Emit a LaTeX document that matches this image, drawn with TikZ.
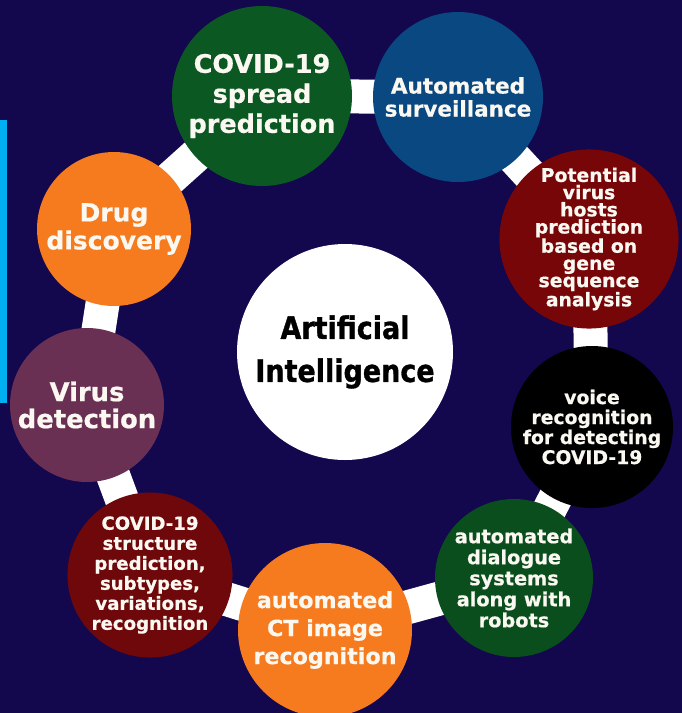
\documentclass[tikz,border=0pt]{standalone}
\usepackage{fontspec}
\usepackage{xcolor}
\usetikzlibrary{backgrounds}
\setmainfont{DejaVu Sans}[BoldFeatures={FakeBold=0.6}]
\newfontfamily\aifont{DejaVu Sans}[FakeStretch=0.87, BoldFeatures={FakeBold=1}]
\newcommand\circfont[2]{\fontsize{#1}{#2}\selectfont\bfseries}

\definecolor{bgnavy}{RGB}{19,7,78}
\definecolor{barcyan}{RGB}{0,176,240}
\definecolor{spreadgreen}{RGB}{11,88,34}
\definecolor{survblue}{RGB}{10,72,130}
\definecolor{hostred}{RGB}{118,6,8}
\definecolor{dialoggreen}{RGB}{10,78,30}
\definecolor{ctorange}{RGB}{246,122,30}
\definecolor{structred}{RGB}{110,8,10}
\definecolor{viruspurple}{RGB}{106,48,84}
\definecolor{labelwhite}{RGB}{250,248,240}

\begin{document}
\begin{tikzpicture}[x=1pt, y=-1pt,
    app/.style={circle, inner sep=0pt, align=center, text=labelwhite},
    band/.style={draw=white, line width=34pt}]
    \useasboundingbox (0,0) rectangle (682,713);

    \node[app, fill=spreadgreen, minimum size=180pt, font=\circfont{25.5}{30}] (spread) at (262,96) {COVID-19\\spread\\prediction};
    \node[app, fill=survblue, minimum size=170pt, font=\circfont{21.5}{23}] (surveil) at (458,97) {Automated\\surveillance};
    \node[app, fill=hostred, minimum size=164pt, font=\circfont{18.8}{17.2}] (hosts) at (589,239) {Potential\\virus\\hosts\\prediction\\based on\\gene\\sequence\\analysis};
    \node[app, fill=black, minimum size=162pt, font=\circfont{18.8}{20}] (voice) at (592,427) {voice\\recognition\\for detecting\\COVID-19};
    \node[app, fill=dialoggreen, minimum size=158pt, font=\circfont{19.3}{21}] (dialog) at (514,578) {automated\\dialogue\\systems\\along with\\robots};
    \node[app, fill=ctorange, minimum size=174pt, font=\circfont{22.2}{28}] (ctimage) at (325,630) {automated\\CT image\\recognition};
    \node[app, fill=structred, minimum size=161pt, font=\circfont{18.1}{20}] (struct) at (150,575) {COVID-19\\structure\\prediction,\\subtypes,\\variations,\\recognition};
    \node[app, fill=viruspurple, minimum size=154pt, font=\circfont{25.8}{27}] (virus) at (87,405) {Virus\\detection};
    \node[app, fill=ctorange, minimum size=154pt, font=\circfont{25}{28}] (drug) at (114,229) {Drug\\discovery};
    \node[circle, fill=white, inner sep=0pt, minimum size=216pt, align=center,
          font=\aifont\fontsize{31}{43}\selectfont\bfseries] (ai) at (345,352) {Artificial\\Intelligence};

    \begin{scope}[on background layer]
        \fill[bgnavy] (0,0) rectangle (682,713);
        \fill[barcyan] (0,120) rectangle (7,403);
        \draw[band] (spread.center) -- (surveil.center);
        \draw[band] (surveil.center) -- (hosts.center);
        \draw[band] (hosts.center) -- (voice.center);
        \draw[band] (voice.center) -- (dialog.center);
        \draw[band] (dialog.center) -- (ctimage.center);
        \draw[band] (ctimage.center) -- (struct.center);
        \draw[band] (struct.center) -- (virus.center);
        \draw[band] (virus.center) -- (drug.center);
        \draw[band] (drug.center) -- (spread.center);
    \end{scope}
\end{tikzpicture}
\end{document}
